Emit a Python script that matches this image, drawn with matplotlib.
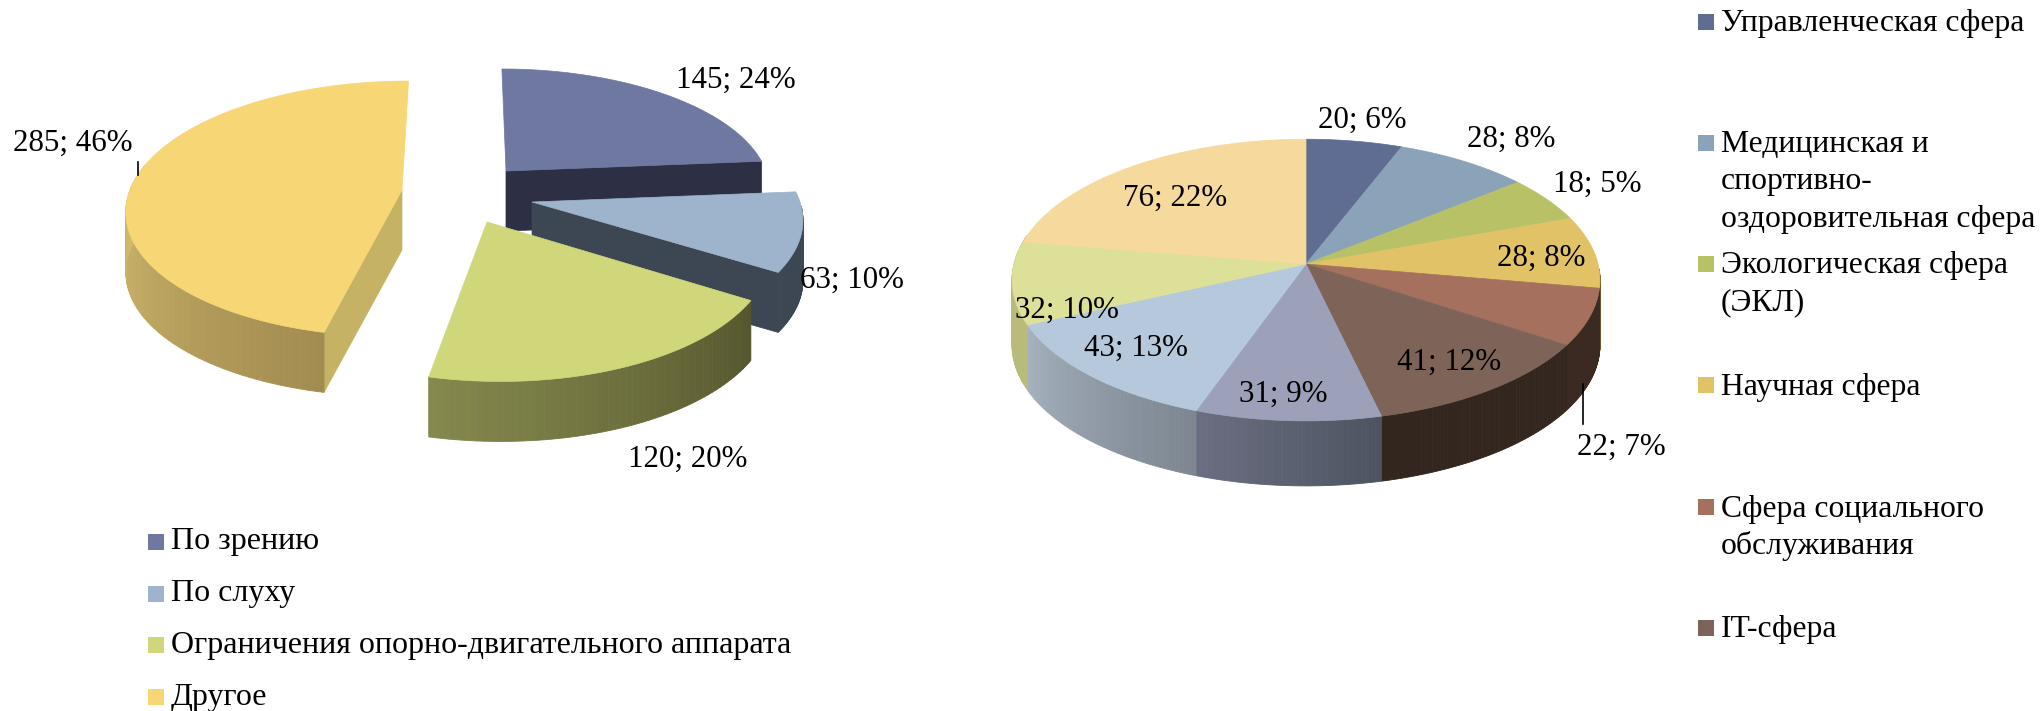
from matplotlib import pyplot as plt
from matplotlib.colors import to_rgb
import numpy as np

plt.rcParams['font.family'] = ['Liberation Serif', 'DejaVu Serif']

# left pie
left_values = [145, 63, 120, 285]
left_pct = [24, 10, 20, 46]
left_names = ["По зрению", "По слуху",
              "Ограничения опорно-двигательного аппарата", "Другое"]
left_top = ['#6e78a0', '#9db4cc', '#d0d77a', '#f6d675']
left_wall = [('#2d3044', '#2d3044'), ('#3c4753', '#3c4753'),
             ('#55562e', '#85894d'), ('#a38c50', '#d6c072')]
left_cut = ['#2d3044', '#3c4753', '#55562e', '#c6b265']

# right pie
right_values = [20, 28, 18, 28, 22, 41, 31, 43, 32, 76]
right_pct = [6, 8, 5, 8, 7, 12, 9, 13, 10, 22]
right_names = ["Управленческая сфера",
               "Медицинская и\nспортивно-\nоздоровительная сфера",
               "Экологическая сфера\n(ЭКЛ)", "Научная сфера",
               "Сфера социального\nобслуживания", "IT-сфера"]
right_top = ['#5f6d93', '#8ba3b8', '#b8c166', '#e2c266', '#a5715e',
             '#7e6359', '#9ca1b9', '#b6c8dc', '#dde098', '#f6d99c']
right_wall = [('#333', '#333'), ('#444', '#444'), ('#555', '#555'),
              ('#6b5a28', '#6b5a28'), ('#3a2a22', '#3a2a22'),
              ('#33261f', '#33261f'), ('#4c5460', '#6b6e82'),
              ('#7d8691', '#a5b1be'), ('#b9bb7a', '#b9bb7a'),
              ('#c9b080', '#c9b080')]

fig = plt.figure(figsize=(20.43, 7.11), dpi=100)
ax = fig.add_axes([0, 0, 1, 1])
ax.set_xlim(0, 2043)
ax.set_ylim(711, 0)
ax.axis('off')


def project(t, cx, cy, rx, ry, p, sk=0.0):
    # angle is clockwise from the top, p is the perspective strength
    xx = np.sin(t)
    yy = np.cos(t)
    s = 1 / (1 + p * yy)
    ys = cy - ry * yy * s
    return cx + rx * xx * s + sk * (ys - cy), ys


def mix(c0, c1, f):
    a = np.array(to_rgb(c0))
    b = np.array(to_rgb(c1))
    return tuple(a + (b - a) * f)


def draw_wall(t0, t1, colors, geom, h):
    lo = max(t0, np.radians(92))
    hi = min(t1, np.radians(282))
    if hi <= lo:
        return
    ts = np.linspace(lo, hi, 60)
    for i in range(len(ts) - 1):
        xs, ys = project(ts[i:i + 2], *geom)
        c = mix(colors[0], colors[1], i / (len(ts) - 2))
        ax.fill([xs[0], xs[1], xs[1], xs[0]],
                [ys[0], ys[1], ys[1] + h, ys[0] + h],
                color=c, lw=0.6, zorder=2)


def draw_top(t0, t1, color, geom):
    ts = np.linspace(t0, t1, 120)
    xs, ys = project(ts, *geom)
    ax.fill(np.r_[geom[0], xs], np.r_[geom[1], ys], color=color, lw=0.5,
            zorder=2)


# left pie, every slice pulled out on its own
left_edges = np.radians(np.cumsum([0] + left_values) / sum(left_values) * 360)
left_geom = [(506, 171, 260, 117, 0.147, 0.04),
             (532, 202, 268, 122, 0.147, 0.0),
             (487, 222, 280, 136, 0.147, 0.085),
             (402, 190, 272, 125, 0.147, -0.06)]
left_h = 60
for i in [0, 3, 1, 2]:
    t0, t1 = left_edges[i], left_edges[i + 1]
    geom = left_geom[i]
    # the cut face that can be seen
    cut_t = t0 if i == 3 else t1
    ex, ey = project(np.array([cut_t]), *geom)
    if i != 2:
        ax.fill([geom[0], ex[0], ex[0], geom[0]],
                [geom[1], ey[0], ey[0] + left_h, geom[1] + left_h],
                color=left_cut[i], lw=0.5, zorder=2)
    draw_wall(t0, t1, left_wall[i], geom, left_h)
    draw_top(t0, t1, left_top[i], geom)

# right pie
right_edges = np.radians(np.cumsum([0] + right_values) / sum(right_values) * 360)
right_geom = (1306, 264, 292, 139, 0.114)
for i in range(len(right_values)):
    draw_wall(right_edges[i], right_edges[i + 1], right_wall[i], right_geom, 65)
for i in range(len(right_values)):
    draw_top(right_edges[i], right_edges[i + 1], right_top[i], right_geom)

# data labels
left_pos = [(736, 80), (852, 280), (688, 459), (73, 143)]
for v, q, pos in zip(left_values, left_pct, left_pos):
    ax.text(pos[0], pos[1], f"{v}; {q}%", fontsize=22.3, ha='center',
            va='center', color='black', zorder=5)
right_pos = [(1362, 120), (1511, 139), (1597, 184), (1541, 258), (1621, 447),
             (1449, 362), (1283, 394), (1136, 348), (1067, 310), (1175, 198)]
for v, q, pos in zip(right_values, right_pct, right_pos):
    ax.text(pos[0], pos[1], f"{v}; {q}%", fontsize=22.3, ha='center',
            va='center', color='black', zorder=5)

# leader lines
ax.plot([138, 138], [162, 175], color='black', lw=1.2, zorder=5)
ax.plot([1583, 1583], [384, 424], color='black', lw=1.2, zorder=5)

# legends
for name, c, y in zip(left_names, left_top, [542, 594, 645, 697]):
    ax.fill([148, 164, 164, 148], [y - 8, y - 8, y + 8, y + 8], color=c, lw=0)
    ax.text(171, y, name, fontsize=23, va='center', color='black')

for name, c, y in zip(right_names, right_top, [22, 143, 264, 385, 507, 628]):
    ax.fill([1698, 1714, 1714, 1698], [y - 8, y - 8, y + 8, y + 8], color=c, lw=0)
    for j, line in enumerate(name.split('\n')):
        ax.text(1721, y + 2 + j * 37, line, fontsize=22.8, va='center',
                color='black')

fig.savefig('out.png', dpi=100)
